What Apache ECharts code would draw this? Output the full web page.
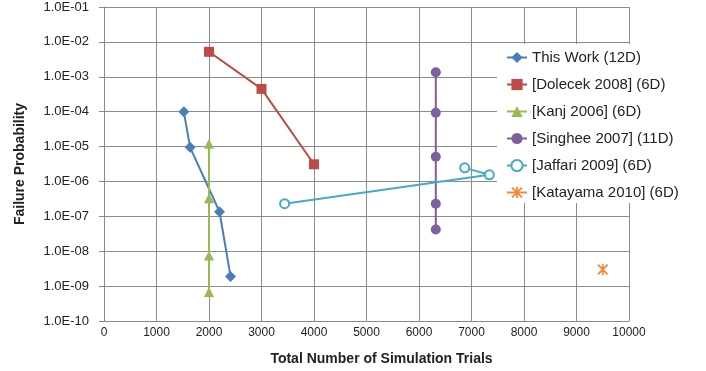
<!DOCTYPE html>
<html>
<head>
<meta charset="utf-8">
<script src="https://cdn.jsdelivr.net/npm/echarts@6/dist/echarts.min.js"></script>
<style>
html,body{margin:0;padding:0;background:#fff;}
#chart{width:706px;height:371px;}
</style>
</head>
<body>
<div id="chart"></div>
<script>
// ---- data ----
const seriesNames = ['This Work (12D)', '[Dolecek 2008] (6D)', '[Kanj 2006] (6D)', '[Singhee 2007] (11D)', '[Jaffari 2009] (6D)', '[Katayama 2010] (6D)'];
const thisWorkX = [1520, 1640, 2200, 2410];
const thisWorkY = [1.0e-4, 9.5e-6, 1.35e-7, 1.9e-9];
const dolecekX = [2000, 3000, 4000];
const dolecekY = [5.2e-3, 4.5e-4, 3.1e-6];
const kanjX = [2000, 2000, 2000, 2000];
const kanjY = [1.2e-5, 3.3e-7, 7.5e-9, 6.8e-10];
const singheeX = [6320, 6320, 6320, 6320, 6320];
const singheeY = [1.35e-3, 9.3e-5, 5.1e-6, 2.3e-7, 4.2e-8];
const jaffariX = [3440, 7340, 6870];
const jaffariY = [2.3e-7, 1.55e-6, 2.45e-6];
const katayamaX = [9500];
const katayamaY = [3.0e-9];
const yTickLabels = ['1.0E-10', '1.0E-09', '1.0E-08', '1.0E-07', '1.0E-06', '1.0E-05', '1.0E-04', '1.0E-03', '1.0E-02', '1.0E-01'];
const xAxisTitle = 'Total Number of Simulation Trials';
const yAxisTitle = 'Failure Probability';

function pairs(xs, ys) { return xs.map((x, i) => [x, ys[i]]); }

const colors = ['#4A7EBB', '#BE4B48', '#98B954', '#7D60A0', '#46AAC5', '#F08A3C'];
const starPath = 'path://M4.2,0H5.8V10H4.2Z M0,1.2L1.2,0L10,8.8L8.8,10Z M8.8,0L10,1.2L1.2,10L0,8.8Z';
const fontFam = 'Liberation Sans, Arial, sans-serif';

const chart = echarts.init(document.getElementById('chart'), null, {renderer: 'canvas'});
chart.setOption({
  animation: false,
  backgroundColor: '#fff',
  grid: {left: 104, right: 77, top: 7, bottom: 49, containLabel: false},
  legend: {
    orient: 'vertical',
    left: 497, top: 44,
    padding: [6, 20, 3, 9],
    backgroundColor: '#fff',
    itemWidth: 20, itemHeight: 14, itemGap: 12,
    textStyle: {fontFamily: fontFam, fontSize: 15, color: '#222'},
    data: seriesNames
  },
  xAxis: {
    type: 'value', min: 0, max: 10000, interval: 1000,
    axisLine: {show: true, lineStyle: {color: '#888', width: 1}},
    axisTick: {show: false},
    axisLabel: {fontFamily: fontFam, fontSize: 12, color: '#222', margin: 6,
      formatter: function (v) { return String(v); }},
    splitLine: {show: true, lineStyle: {color: '#8c8c8c', width: 1}},
    name: xAxisTitle, nameLocation: 'middle', nameGap: 31,
    nameTextStyle: {fontFamily: fontFam, fontSize: 14, fontWeight: 'bold', color: '#222', padding: [0, 0, 0, 30]}
  },
  yAxis: {
    type: 'log', logBase: 10, min: 1e-10, max: 1e-1,
    axisLine: {show: true, lineStyle: {color: '#888', width: 1}},
    axisTick: {show: true, length: 5, lineStyle: {color: '#888'}},
    axisLabel: {
      fontFamily: fontFam, fontSize: 13, color: '#222', margin: 15,
      formatter: function (v) { return yTickLabels[Math.round(Math.log10(v)) + 10]; }
    },
    splitLine: {show: true, lineStyle: {color: '#8c8c8c', width: 1}},
    name: yAxisTitle, nameLocation: 'middle', nameGap: 77,
    nameTextStyle: {fontFamily: fontFam, fontSize: 14, fontWeight: 'bold', color: '#222'}
  },
  series: [
    {name: seriesNames[0], type: 'line', data: pairs(thisWorkX, thisWorkY), symbol: 'diamond', symbolSize: 11,
      lineStyle: {color: colors[0], width: 2}, itemStyle: {color: colors[0]}},
    {name: seriesNames[1], type: 'line', data: pairs(dolecekX, dolecekY), symbol: 'rect', symbolSize: 10,
      lineStyle: {color: colors[1], width: 2}, itemStyle: {color: colors[1]}},
    {name: seriesNames[2], type: 'line', data: pairs(kanjX, kanjY), symbol: 'triangle', symbolSize: 10,
      lineStyle: {color: colors[2], width: 2}, itemStyle: {color: colors[2]}},
    {name: seriesNames[3], type: 'line', data: pairs(singheeX, singheeY), symbol: 'circle', symbolSize: 10,
      lineStyle: {color: colors[3], width: 2}, itemStyle: {color: colors[3]}},
    {name: seriesNames[4], type: 'line', data: pairs(jaffariX, jaffariY), symbol: 'emptyCircle', symbolSize: 9,
      lineStyle: {color: colors[4], width: 2}, itemStyle: {color: colors[4], borderWidth: 2}},
    {name: seriesNames[5], type: 'line', data: pairs(katayamaX, katayamaY), symbol: starPath, symbolSize: 11,
      lineStyle: {color: colors[5], width: 2}, itemStyle: {color: colors[5]}}
  ]
});
</script>
</body>
</html>
